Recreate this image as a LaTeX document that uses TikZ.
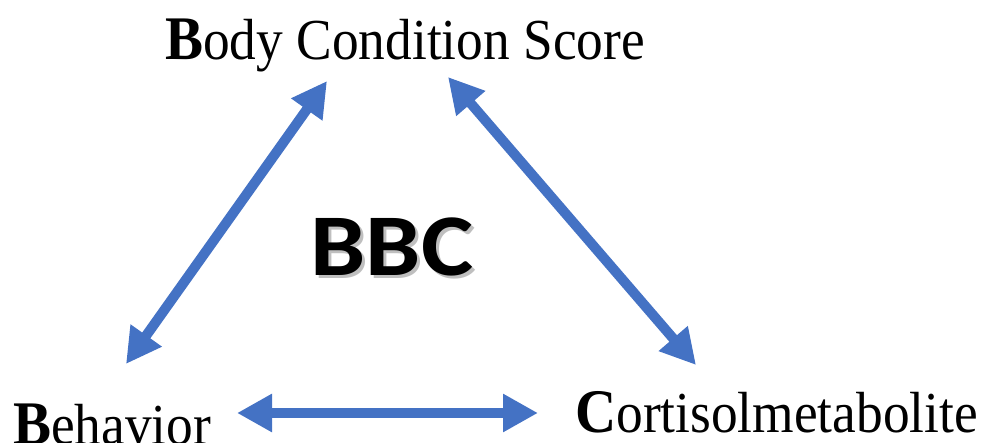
\documentclass[tikz,border=0pt]{standalone}
\usepackage{fontspec}
\setmainfont{Liberation Serif}
\newfontfamily\bbcfont{Carlito}
\usepackage{graphicx}
\usepackage{xcolor}
\usetikzlibrary{arrows.meta}
\definecolor{linkblue}{HTML}{4472C4}
\newcommand{\firstcap}[1]{{\bfseries\fontsize{62}{62}\selectfont #1}}

\begin{document}
\begin{tikzpicture}[x=1pt, y=-1pt,
  lbl/.style={inner sep=0pt, anchor=base west, font=\fontsize{58}{60}\selectfont},
  bbcfnt/.style={inner sep=0pt, font=\bbcfont\bfseries\fontsize{88}{88}\selectfont},
  link/.style={linkblue, line width=10pt,
    {Triangle[length=35pt,width=36pt]}-{Triangle[length=35pt,width=36pt]}}]
\useasboundingbox (0,0) rectangle (984,443);
% ---- labels ----
\node[lbl] (bcs) at (165,60) {\scalebox{0.92}[1]{\firstcap{B}ody Condition Score}};
\node[lbl] (beh) at (13,444) {\scalebox{0.92}[1]{\firstcap{B}ehavior}};
\node[lbl] (cort) at (575,432) {\scalebox{0.92}[1]{\firstcap{C}ortisolmetabolite}};
% ---- centre ----
\node[bbcfnt, black!25] (bbcs) at (395,250) {\scalebox{1.12}[1]{BBC}};
\node[bbcfnt] (bbc) at (392,247) {\scalebox{1.12}[1]{BBC}};
% ---- arrow ends ----
\coordinate (bcs-l) at (327,81);
\coordinate (bcs-r) at (448,77);
\coordinate (beh-t) at (126,364);
\coordinate (beh-r) at (237,413);
\coordinate (cort-t) at (696,365);
\coordinate (cort-l) at (538,413);
% ---- links ----
\draw[link] (beh-t) -- (bcs-l);
\draw[link] (bcs-r) -- (cort-t);
\draw[link] (beh-r) -- (cort-l);
\end{tikzpicture}
\end{document}
